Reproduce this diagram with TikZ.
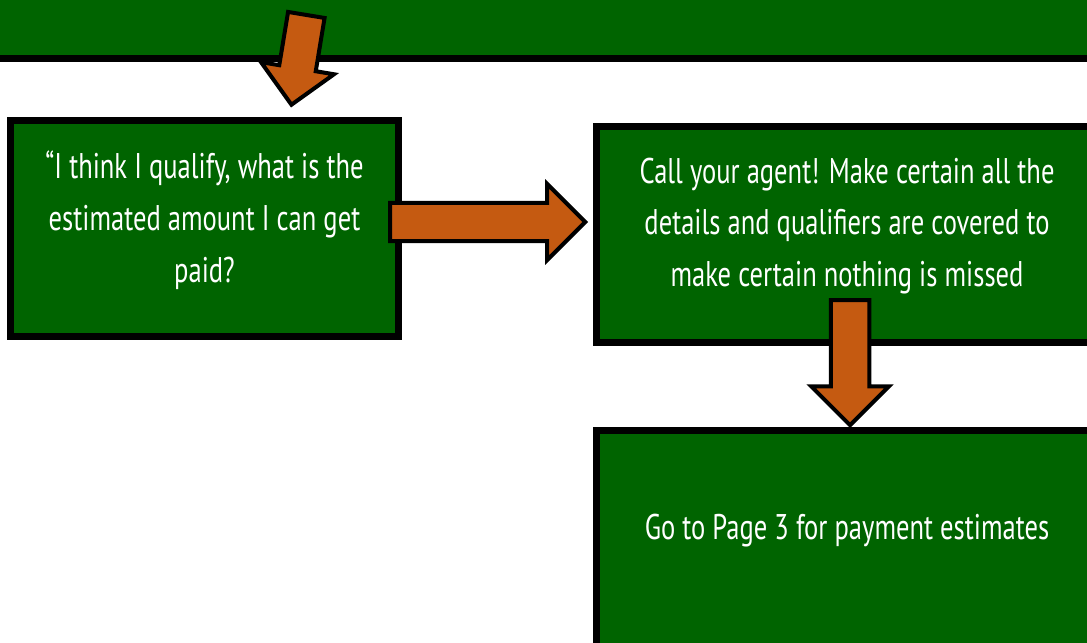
\documentclass[tikz,border=0pt]{standalone}
\usepackage{fontspec}
\setmainfont{PT Sans}[FakeStretch=0.745]
\usetikzlibrary{shapes.arrows}
\definecolor{leaf}{RGB}{0,100,0}
\definecolor{rust}{RGB}{197,90,17}
\tikzset{
  stage/.style={draw=black, line width=0.14cm, fill=leaf, minimum width=7.76cm,
              minimum height=4.32cm, inner sep=0pt},
  wide/.style={stage, minimum width=10.02cm},
  say/.style={text=white, align=center, inner sep=0pt,
              font=\fontsize{20.3}{29.5}\selectfont},
  blockarr/.style={single arrow, draw=black, line width=0.08cm, fill=rust,
              inner xsep=0pt, single arrow tip angle=90, anchor=tip},
}

\begin{document}
\begin{tikzpicture}[x=0.02cm, y=-0.02cm]
  \useasboundingbox (0,0) rectangle (1087,642);
  \clip (0,0) rectangle (1087,642);

  % boxes
  \node[stage, minimum width=22.4cm] (intro) at (543.5,-49.5) {};
  \node[stage] (qual) at (204.5,228.5) {};
  \node[wide] (agent) at (847,234.5) {};
  \node[wide] (page) at (847,538.5) {};

  \node[say] (qualtxt) at (204.5,220)
    {“I think I qualify, what is the\\ estimated amount I can get\\ paid?};
  \node[say] (agenttxt) at (847,226)
    {Call your agent! Make certain all the\\ details and qualifiers are covered to\\ make certain nothing is missed};
  \node[say] (pagetxt) at (847,531) {Go to Page 3 for payment estimates};

  % block arrows
  \node[blockarr, rotate=-99.4, inner ysep=0.33cm, single arrow head extend=0.37cm,
        minimum width=1.4cm, minimum height=1.82cm] (down1) at (291,107.5) {};
  \node[blockarr, inner ysep=0.345cm, single arrow head extend=0.375cm,
        minimum width=1.44cm, minimum height=3.9cm] (across) at (588,222) {};
  \node[blockarr, rotate=-90, inner ysep=0.345cm, single arrow head extend=0.39cm,
        minimum width=1.47cm, minimum height=2.5cm] (down2) at (850,428) {};
\end{tikzpicture}
\end{document}
